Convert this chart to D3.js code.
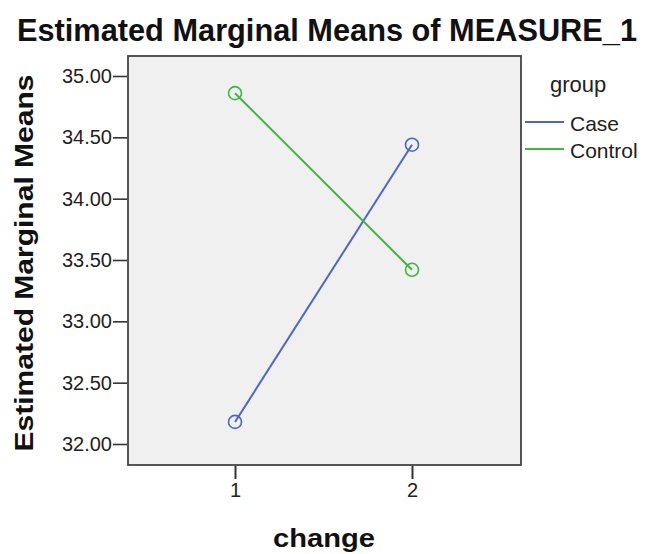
<!DOCTYPE html>
<html><head><meta charset="utf-8">
<script src="https://cdn.jsdelivr.net/npm/d3@7"></script>
<style>body{margin:0;background:#fff;} text{font-family:"Liberation Sans",Arial,sans-serif;}</style>
</head><body><svg id="c" width="653" height="554"></svg>
<script>
const categories = ["1", "2"];
const groups = ["Case", "Control"];
const caseValues = [32.18, 34.44];
const controlValues = [34.86, 33.42];
const yTicks = [32.00, 32.50, 33.00, 33.50, 34.00, 34.50, 35.00];
const colors = ["#4f66c2", "#3cb83c"];
const seriesValues = [caseValues, controlValues];

const svg = d3.select("#c");
const L = 128, R = 521, T = 56, B = 465;
const x = d3.scalePoint().domain(categories).range([235, 412]);
const y = d3.scaleLinear().domain([32, 35]).range([444, 76]);

svg.append("rect").attr("x", L).attr("y", T).attr("width", R - L).attr("height", B - T)
  .attr("fill", "#f0f0f0").attr("stroke", "#444").attr("stroke-width", 1.8);

const yAxis = svg.append("g").attr("transform", `translate(${L - 1},0)`)
  .call(d3.axisLeft(y).tickValues(yTicks).tickFormat(d3.format(".2f")).tickSize(14).tickPadding(1));
yAxis.select(".domain").remove();
yAxis.selectAll("line").attr("stroke", "#333").attr("stroke-width", 1.6);
yAxis.selectAll("text").attr("font-size", 20).attr("fill", "#222").attr("font-family", "Liberation Sans, Arial, sans-serif");

const xAxis = svg.append("g").attr("transform", `translate(0,${B + 1})`)
  .call(d3.axisBottom(x).tickSize(13).tickPadding(4));
xAxis.select(".domain").remove();
xAxis.selectAll("line").attr("stroke", "#333").attr("stroke-width", 2);
xAxis.selectAll("text").attr("font-size", 20).attr("fill", "#222").attr("font-family", "Liberation Sans, Arial, sans-serif");

const line = d3.line().x((d, i) => x(categories[i])).y(d => y(d));
seriesValues.forEach((vals, k) => {
  svg.append("path").datum(vals).attr("d", line).attr("fill", "none")
    .attr("stroke", colors[k]).attr("stroke-width", 2);
  svg.selectAll(null).data(vals).enter().append("circle")
    .attr("cx", (d, i) => x(categories[i])).attr("cy", d => y(d)).attr("r", 6.5)
    .attr("fill", "none").attr("stroke", colors[k]).attr("stroke-width", 1.6);
});

svg.append("text").attr("x", 327).attr("y", 41).attr("text-anchor", "middle")
  .attr("font-size", 31).attr("font-weight", "bold").attr("fill", "#111")
  .attr("textLength", 620).attr("lengthAdjust", "spacingAndGlyphs")
  .text("Estimated Marginal Means of MEASURE_1");
svg.append("text").attr("transform", "translate(33,263) rotate(-90)").attr("text-anchor", "middle")
  .attr("font-size", 26).attr("font-weight", "bold").attr("fill", "#111")
  .attr("textLength", 377).attr("lengthAdjust", "spacingAndGlyphs")
  .text("Estimated Marginal Means");
svg.append("text").attr("x", 324).attr("y", 547).attr("text-anchor", "middle")
  .attr("font-size", 26).attr("font-weight", "bold").attr("fill", "#111")
  .attr("textLength", 102).attr("lengthAdjust", "spacingAndGlyphs").text("change");

svg.append("text").attr("x", 550).attr("y", 92).attr("font-size", 22).attr("fill", "#222").text("group");
groups.forEach((g, k) => {
  const yy = 122 + k * 27;
  svg.append("line").attr("x1", 525).attr("x2", 564).attr("y1", yy).attr("y2", yy)
    .attr("stroke", colors[k]).attr("stroke-width", 2);
  svg.append("text").attr("x", 570).attr("y", yy + 9).attr("font-size", 21).attr("fill", "#222").text(g);
});
</script></body></html>
